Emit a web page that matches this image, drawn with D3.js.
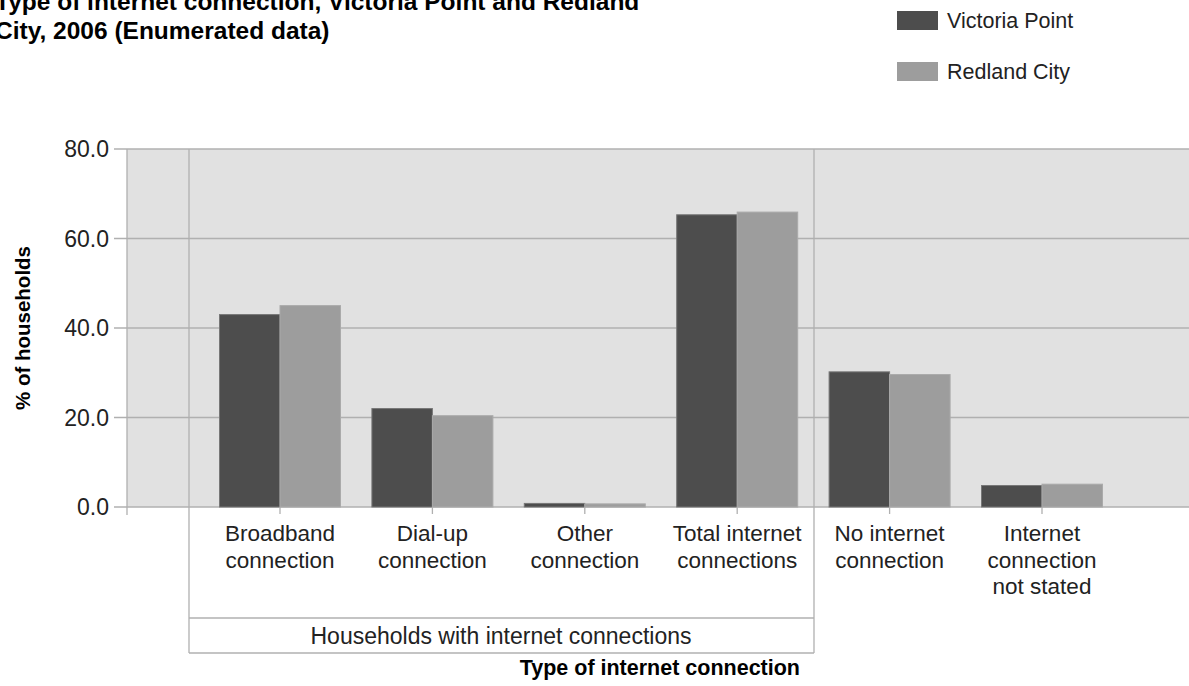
<!DOCTYPE html>
<html>
<head>
<meta charset="utf-8">
<script src="https://cdn.jsdelivr.net/npm/d3@7"></script>
<style>
  body { margin: 0; background: #fff; }
  svg { display: block; font-family: "Liberation Sans", Arial, sans-serif; }
</style>
</head>
<body>
<svg id="chart" width="1189" height="686"></svg>
<script>
// data
const categories = [
  ["Broadband", "connection"],
  ["Dial-up", "connection"],
  ["Other", "connection"],
  ["Total internet", "connections"],
  ["No internet", "connection"],
  ["Internet", "connection", "not stated"]
];
const seriesNames = ["Victoria Point", "Redland City"];
const victoriaPoint = [43.0, 22.0, 0.8, 65.3, 30.2, 4.8];
const redlandCity = [45.0, 20.4, 0.7, 65.9, 29.6, 5.1];
const yTicks = [0, 20, 40, 60, 80];
const colors = ["#4d4d4d", "#9d9d9d"];

const svg = d3.select("#chart");

// plot frame
const plotLeft = 127, plotRight = 1189, plotTop = 149, plotBottom = 507;

const y = d3.scaleLinear().domain([0, 80]).range([plotBottom, plotTop]);
const keys = categories.map((d, i) => "c" + i);
const x = d3.scalePoint().domain(keys).range([280, 1042]);
const x1 = d3.scaleBand().domain(seriesNames).range([-60.5, 60.5]);

svg.append("rect")
  .attr("x", plotLeft).attr("y", plotTop)
  .attr("width", plotRight - plotLeft).attr("height", plotBottom - plotTop)
  .attr("fill", "#e1e1e1");

// gridlines
svg.append("g").selectAll("line")
  .data(yTicks)
  .join("line")
  .attr("x1", 114).attr("x2", plotRight)
  .attr("y1", d => y(d)).attr("y2", d => y(d))
  .attr("stroke", "#b0b0b0").attr("stroke-width", 1.3);

// y axis line
svg.append("line")
  .attr("x1", plotLeft).attr("x2", plotLeft)
  .attr("y1", plotTop).attr("y2", plotBottom + 8)
  .attr("stroke", "#b0b0b0").attr("stroke-width", 1.3);

// y tick labels
svg.append("g").selectAll("text")
  .data(yTicks)
  .join("text")
  .attr("x", 109).attr("y", d => y(d))
  .attr("dy", "0.35em")
  .attr("text-anchor", "end")
  .attr("font-size", 23)
  .attr("fill", "#222")
  .text(d => d3.format(".1f")(d));

// group separators
[189, 814].forEach(xx => {
  svg.append("line")
    .attr("x1", xx).attr("x2", xx)
    .attr("y1", plotTop).attr("y2", 653)
    .attr("stroke", "#b0b0b0").attr("stroke-width", 1.3);
});
svg.append("line").attr("x1", 189).attr("x2", 814).attr("y1", 618).attr("y2", 618)
  .attr("stroke", "#b0b0b0").attr("stroke-width", 1.3);
svg.append("line").attr("x1", 189).attr("x2", 814).attr("y1", 653).attr("y2", 653)
  .attr("stroke", "#b0b0b0").attr("stroke-width", 1.3);

// bars
const rows = keys.map((k, i) => ({ key: k, vals: [victoriaPoint[i], redlandCity[i]] }));
const groups = svg.append("g").selectAll("g")
  .data(rows)
  .join("g")
  .attr("transform", d => `translate(${x(d.key)},0)`);

groups.selectAll("rect")
  .data(d => d.vals.map((v, j) => ({ name: seriesNames[j], v: v, j: j })))
  .join("rect")
  .attr("x", d => x1(d.name))
  .attr("y", d => y(d.v))
  .attr("width", x1.bandwidth())
  .attr("height", d => plotBottom - y(d.v))
  .attr("fill", d => colors[d.j])
  .attr("stroke", d => d.j === 0 ? "#777" : "#aaa")
  .attr("stroke-width", 1);

// category ticks
svg.append("g").selectAll("line")
  .data(keys)
  .join("line")
  .attr("x1", d => x(d)).attr("x2", d => x(d))
  .attr("y1", plotBottom).attr("y2", plotBottom + 7)
  .attr("stroke", "#b0b0b0").attr("stroke-width", 1.3);

// category labels
const lab = svg.append("g").selectAll("text")
  .data(rows)
  .join("text")
  .attr("text-anchor", "middle")
  .attr("font-size", 22.5)
  .attr("fill", "#222");
lab.each(function(d, i) {
  d3.select(this).selectAll("tspan")
    .data(categories[i])
    .join("tspan")
    .attr("x", x(d.key))
    .attr("y", (t, k) => 541 + k * 26.5)
    .text(t => t);
});

svg.append("text")
  .attr("x", 501).attr("y", 644)
  .attr("text-anchor", "middle")
  .attr("font-size", 23).attr("fill", "#222")
  .text("Households with internet connections");

// axis titles
svg.append("text")
  .attr("x", 800).attr("y", 675)
  .attr("text-anchor", "end")
  .attr("font-size", 21.5).attr("font-weight", "bold")
  .text("Type of internet connection");

svg.append("text")
  .attr("transform", "translate(30,328) rotate(-90)")
  .attr("text-anchor", "middle")
  .attr("font-size", 20.5).attr("font-weight", "bold")
  .text("% of households");

// title
svg.append("text")
  .attr("x", -5).attr("y", 10)
  .attr("font-size", 24.5).attr("font-weight", "bold")
  .text("Type of internet connection, Victoria Point and Redland");
svg.append("text")
  .attr("x", -5).attr("y", 39)
  .attr("font-size", 24.5).attr("font-weight", "bold")
  .text("City, 2006 (Enumerated data)");

// legend
const legend = svg.append("g").selectAll("g")
  .data(seriesNames)
  .join("g")
  .attr("transform", (d, i) => `translate(897,${11 + i * 51})`);
legend.append("rect")
  .attr("width", 41).attr("height", 19)
  .attr("fill", (d, i) => colors[i]);
legend.append("text")
  .attr("x", 50).attr("y", 9.5).attr("dy", "0.35em")
  .attr("font-size", 21.5).attr("fill", "#222")
  .text(d => d);
</script>
</body>
</html>
